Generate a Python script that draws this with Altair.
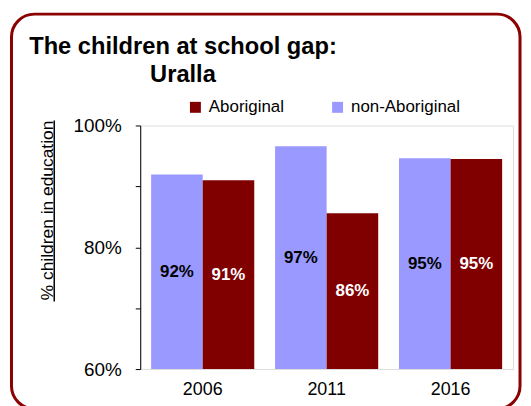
import altair as alt
import pandas as pd

years = ["2006", "2011", "2016"]
non_aboriginal = [91.95, 96.6, 94.6]
aboriginal = [91.0, 85.6, 94.5]
series_names = ["Aboriginal", "non-Aboriginal"]
series_colors = ["#800000", "#9999ff"]
y_ticks = [60, 70, 80, 90, 100]
title_lines = ["The children at school gap:", "Uralla"]

rows = []
for i, yr in enumerate(years):
    rows.append({"year": yr, "series": "non-Aboriginal", "value": non_aboriginal[i]})
    rows.append({"year": yr, "series": "Aboriginal", "value": aboriginal[i]})
df = pd.DataFrame(rows)

FONT = "Liberation Sans"

x_enc = alt.X("year:N", title=None, sort=years,
              scale=alt.Scale(paddingInner=0.168, paddingOuter=0.088),
              axis=alt.Axis(labelAngle=0, ticks=False, domain=False, labelPadding=12,
                            labelFontSize=18, labelColor="black", labelFont=FONT))
xoff = alt.XOffset("series:N", sort=["non-Aboriginal", "Aboriginal"], scale=alt.Scale(paddingInner=0, paddingOuter=0))

y_scale = alt.Scale(domain=[60, 100], nice=False, zero=False)

bars = alt.Chart(df).mark_bar().encode(
    x=x_enc,
    xOffset=xoff,
    y=alt.Y("value:Q", scale=y_scale, title="% children in education",
            axis=alt.Axis(values=y_ticks, grid=False,
                          labelExpr="datum.value % 20 === 0 ? datum.value + '%' : ''",
                          labelFontSize=19, labelColor="black", labelFont=FONT, labelPadding=14,
                          tickSize=5, tickColor="black", domainColor="black",
                          titleFontSize=17.5, titleFontWeight="normal", titleColor="black",
                          titleFont=FONT, titleX=-88, titleY=85, titleAngle=270,
                          titleBaseline="alphabetic", titleAlign="center")),
    y2=alt.datum(60),
    color=alt.Color("series:N", scale=alt.Scale(domain=series_names, range=series_colors),
                    legend=alt.Legend(title=None, orient="none", direction="horizontal",
                                      legendX=47, legendY=-27, padding=0,
                                      symbolType="square", symbolSize=121, symbolStrokeWidth=0,
                                      labelFontSize=17, labelFont=FONT, labelColor="black",
                                      labelOffset=5, columnPadding=45, symbolOpacity=1)),
)

labels = alt.Chart(df).transform_calculate(
    mid="(60 + datum.value) / 2",
    lbl="format(datum.value, '.0f') + '%'",
).mark_text(fontSize=17, fontWeight="bold", font=FONT, baseline="middle").encode(
    x=alt.X("year:N", sort=years, scale=alt.Scale(paddingInner=0.168, paddingOuter=0.088)),
    xOffset=xoff,
    y=alt.Y("mid:Q", scale=y_scale),
    text="lbl:N",
    color=alt.condition(alt.datum.series == "Aboriginal", alt.value("white"), alt.value("black")),
)

deco = alt.Data(values=[{}])
frame = alt.Chart(deco).mark_rect(filled=False, stroke="#8b0000", strokeWidth=3, cornerRadius=23).encode(
    x=alt.value(-129.5), x2=alt.value(382), y=alt.value(-112), y2=alt.value(285)
)
underline = alt.Chart(deco).mark_rule(color="black", strokeWidth=1.5).encode(
    x=alt.value(-86.5), y=alt.value(-5), y2=alt.value(177)
)
title = alt.Chart(deco).mark_text(
    text=title_lines, fontSize=23.8, fontWeight="bold", font=FONT, color="black",
    align="center", baseline="alphabetic", lineHeight=28,
).encode(x=alt.value(43), y=alt.value(-72))

chart = alt.layer(frame, bars, labels, underline, title).properties(
    width=375, height=245,
    padding={"left": 133, "top": 117, "right": 10, "bottom": 36},
    autosize=alt.AutoSizeParams(type="none"),
).resolve_scale(color="independent").configure_view(stroke=None).configure(font=FONT)

chart.save("out.html", embed_options={"renderer": "svg", "actions": False})
